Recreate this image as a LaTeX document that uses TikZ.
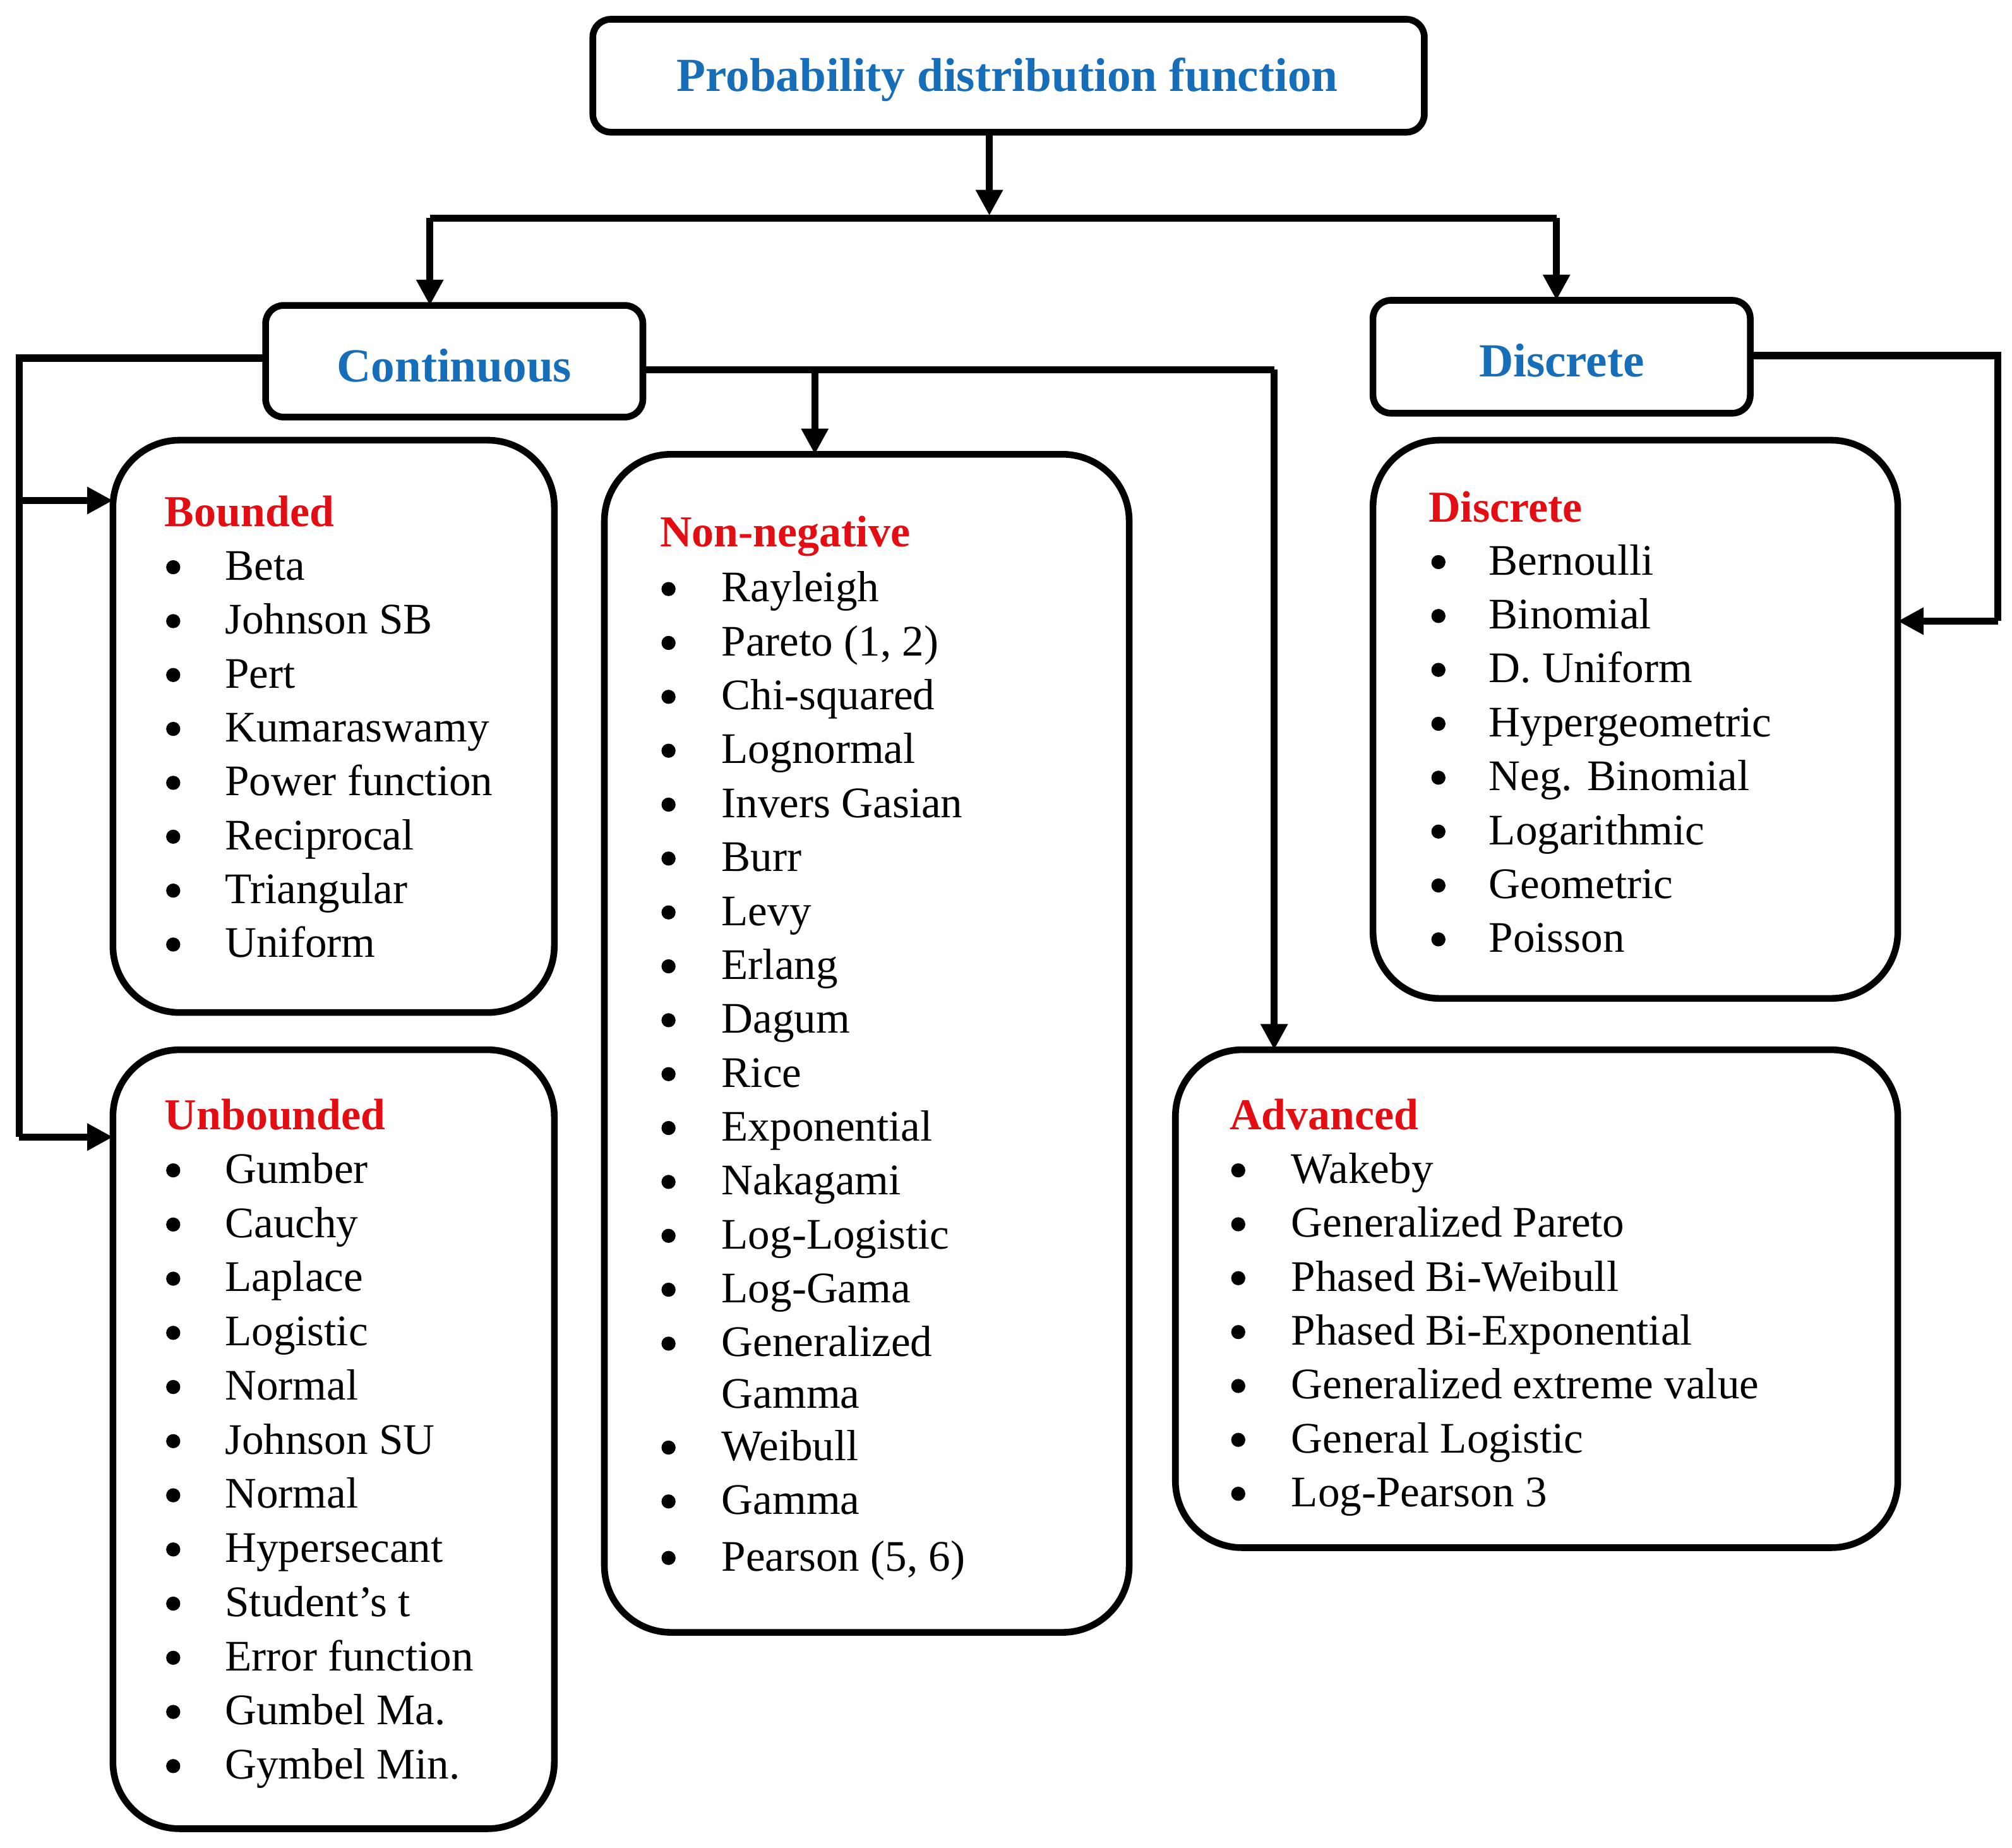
\documentclass[tikz,border=0pt]{standalone}
\usepackage{fontspec}
\setmainfont{Liberation Serif}
\usetikzlibrary{arrows.meta}
\definecolor{tblue}{RGB}{23,110,184}
\definecolor{tred}{RGB}{226,14,20}
\begin{document}
\begin{tikzpicture}[x=0.5pt,y=-0.5pt,
  box/.style={draw,line width=2.6pt,rounded corners=7pt},
  lbox/.style={draw,line width=2.6pt,rounded corners=26pt},
  ttl/.style={text=tblue,font=\bfseries\fontsize{18.5}{22}\selectfont},
  hdr/.style={anchor=base west,text=tred,font=\bfseries\fontsize{17.2}{20}\selectfont,inner sep=0pt},
  itm/.style={anchor=base west,font=\fontsize{17}{20}\selectfont,inner sep=0pt},
  bul/.style={circle,fill,inner sep=0pt,minimum size=5.5pt},
  con/.style={line width=2.8pt},
  arr/.style={line width=2.8pt,-{Triangle[length=10pt,width=10pt]}}]
\useasboundingbox (0,0) rectangle (1568,1440);
% title boxes
\draw[box] (462,15) rectangle (1110,103);
\node[ttl] (top) at (785,62) {Probability distribution function};
\draw[box] (207,238) rectangle (501,325);
\node[ttl] (cont) at (354,285) {Continuous};
\draw[box] (1070,234) rectangle (1364,322);
\node[ttl] (disc) at (1217,281) {Discrete};
% list boxes
\draw[lbox] (88,343) rectangle (432,789);
\draw[lbox] (88,818) rectangle (432,1425);
\draw[lbox] (471,354) rectangle (880,1272);
\draw[lbox] (1070,343) rectangle (1479,778);
\draw[lbox] (916,818) rectangle (1479,1206);
% coordinates
\coordinate (t1) at (771,103);
\coordinate (h1) at (335,170);
\coordinate (h2) at (1213,170);
\coordinate (cl) at (207,279);
\coordinate (cr) at (501,288);
\coordinate (dr) at (1364,277);
% connectors
\draw[arr] (t1) -- (771,168);
\draw[con] (h1) -- (h2);
\draw[arr] (h1) -- (335,238);
\draw[arr] (h2) -- (1213,234);
\draw[con] (cl) -- (15,279) -- (15,886);
\draw[arr] (15,886) -- (88,886);
\draw[arr] (15,390) -- (88,390);
\draw[con] (cr) -- (993,288);
\draw[arr] (635,288) -- (635,354);
\draw[arr] (993,288) -- (993,818);
\draw[con] (dr) -- (1557,277) -- (1557,484);
\draw[arr] (1557,484) -- (1479,484);
% Bounded
\node[hdr] (bh) at (128,410) {Bounded};
\foreach \t [count=\i from 0] in {Beta,Johnson SB,Pert,Kumaraswamy,Power function,Reciprocal,Triangular,Uniform}{
  \node[itm] (b\i) at (175,452+42*\i) {\t};
  \node[bul] (bb\i) at (135,442+42*\i) {};}
% Unbounded
\node[hdr] (uh) at (128,880) {Unbounded};
\foreach \t [count=\i from 0] in {Gumber,Cauchy,Laplace,Logistic,Normal,Johnson SU,Normal,Hypersecant,Student’s t,Error function,Gumbel Ma.,Gymbel Min.}{
  \node[itm] (u\i) at (175,922+42.2*\i) {\t};
  \node[bul] (ub\i) at (135,912+42.2*\i) {};}
% Non-negative
\node[hdr] (nh) at (514,426) {Non-negative};
\foreach \t [count=\i from 0] in {Rayleigh,{Pareto (1, 2)},Chi-squared,Lognormal,Invers Gasian,Burr,Levy,Erlang,Dagum,Rice,Exponential,Nakagami,Log-Logistic,Log-Gama,Generalized}{
  \node[itm] (n\i) at (562,469+42*\i) {\t};
  \node[bul] (nb\i) at (521,459+42*\i) {};}
\node[itm] (n15) at (562,1097) {Gamma};
\foreach \t/\y [count=\i from 16] in {Weibull/1127,Gamma/1169,{Pearson (5, 6)}/1213}{
  \node[itm] (n\i) at (562,\y+11) {\t};
  \node[bul] (nb\i) at (521,\y+1) {};}
% Discrete
\node[hdr] (dh) at (1113,407) {Discrete};
\foreach \t [count=\i from 0] in {Bernoulli,Binomial,D. Uniform,Hypergeometric,Neg. Binomial,Logarithmic,Geometric,Poisson}{
  \node[itm] (d\i) at (1160,448+42*\i) {\t};
  \node[bul] (db\i) at (1121,438+42*\i) {};}
% Advanced
\node[hdr] (ah) at (958,880) {Advanced};
\foreach \t [count=\i from 0] in {Wakeby,Generalized Pareto,Phased Bi-Weibull,Phased Bi-Exponential,Generalized extreme value,General Logistic,Log-Pearson 3}{
  \node[itm] (a\i) at (1006,922+42*\i) {\t};
  \node[bul] (ab\i) at (965,912+42*\i) {};}
\end{tikzpicture}
\end{document}
